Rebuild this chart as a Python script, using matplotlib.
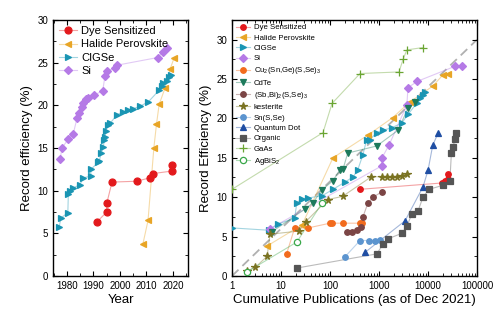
import numpy as np
import matplotlib
matplotlib.use("Agg")
import matplotlib.pyplot as plt
from matplotlib.lines import Line2D
from matplotlib.ticker import MultipleLocator, LogLocator, NullFormatter, FixedLocator

plt.rcParams['font.family'] = ['Liberation Sans', 'DejaVu Sans']
plt.rcParams['mathtext.fontset'] = 'custom'
plt.rcParams['mathtext.rm'] = 'Liberation Sans'
plt.rcParams['axes.linewidth'] = 1.0

# ---- record efficiency vs year ----
dye_year = [1991.2, 1995.0, 1995.0, 1997.0, 2006.3, 2011.3, 2012.5, 2019.8, 2019.8]
dye_eff = [6.3, 7.5, 8.5, 11.0, 11.1, 11.5, 12.0, 12.3, 13.0]

pero_year = [2008.7, 2010.6, 2012.8, 2013.8, 2014.8, 2017.0, 2018.9, 2020.5]
pero_eff = [3.8, 6.5, 15.0, 17.8, 20.1, 22.0, 24.2, 25.6]

cigs_year = [1977.0, 1977.7, 1980.3, 1980.5, 1981.1, 1982.2, 1984.9, 1986.1, 1989.0, 1989.0,
             1991.8, 1992.2, 1992.9, 1993.7, 1994.1, 1994.3, 1994.7, 1995.4, 1996.3, 1998.9,
             2001.0, 2003.0, 2005.0, 2007.6, 2010.7, 2014.9, 2015.8, 2016.3, 2017.6, 2018.6, 2019.3]
cigs_eff = [5.7, 6.8, 7.4, 9.6, 9.9, 10.3, 10.7, 11.5, 11.7, 12.5,
            13.3, 13.5, 14.4, 15.1, 15.9, 16.3, 17.0, 17.7, 17.9, 18.9,
            19.2, 19.5, 19.6, 19.9, 20.4, 21.8, 22.3, 22.6, 22.9, 23.3, 23.5]

si_year = [1977.4, 1978.1, 1980.4, 1982.3, 1983.8, 1984.5, 1985.6, 1986.1, 1987.2, 1987.9,
           1990.3, 1993.5, 1994.3, 1995.1, 1998.0, 1998.9, 2014.3, 2016.3, 2017.6]
si_eff = [13.7, 15.0, 16.0, 16.6, 18.5, 19.1, 19.8, 20.3, 20.7, 20.9,
          21.2, 21.7, 23.4, 24.0, 24.4, 24.7, 25.6, 26.3, 26.7]

# ---- record efficiency vs cumulative publications ----
dye_pub = [410, 19000, 22000, 26000, 26000]
dye_pub_eff = [11.0, 11.8, 12.1, 12.3, 13.0]

pero_pub = [5.2, 27, 115, 600, 1900, 4300, 12500, 20000, 26000]
pero_pub_eff = [3.8, 6.5, 15.0, 17.9, 20.1, 22.1, 24.1, 25.5, 25.7]

cigs_pub = [1, 5.7, 8.5, 19, 21, 27, 36, 70, 115, 200, 300, 370, 470, 560, 650, 900,
            1200, 1800, 2900, 3900, 6000, 6900, 7900, 8600]
cigs_pub_eff = [6.1, 5.8, 6.6, 7.3, 9.3, 9.8, 9.9, 10.2, 11.0, 11.9, 12.6, 13.5, 15.4, 17.3,
                17.3, 18.2, 18.5, 18.8, 19.4, 20.5, 22.0, 22.6, 23.0, 23.4]

si_pub = [6, 1150, 1150, 1600, 3700, 3900, 6000, 35000, 49000]
si_pub_eff = [6.0, 14.0, 15.0, 16.6, 21.7, 23.9, 24.7, 26.6, 26.6]

czts_ge_pub = [13, 19, 36, 100, 110, 185, 400, 440]
czts_ge_eff = [2.8, 6.1, 6.1, 6.7, 6.7, 6.7, 6.7, 6.7]

cdte_pub = [6.5, 31, 45, 68, 115, 160, 185, 230, 900, 2450, 3900, 5500]
cdte_eff = [5.6, 8.5, 9.3, 10.9, 12.1, 13.5, 13.6, 15.6, 16.5, 18.5, 21.3, 22.1]

sbbi_pub = [220, 280, 350, 420, 470, 590, 760, 1150]
sbbi_eff = [5.6, 5.6, 5.8, 6.2, 7.5, 9.2, 10.0, 10.7]

kest_pub = [2, 3, 5.2, 6, 23, 32, 90, 180, 700, 1150, 1450, 1850, 2300, 2900, 3700]
kest_eff = [0.6, 1.1, 2.5, 5.3, 5.7, 6.9, 9.7, 10.1, 12.6, 12.6, 12.6, 12.6, 12.6, 12.7, 13.0]

sns_pub = [200, 410, 620, 820, 1050]
sns_eff = [2.4, 4.5, 4.5, 4.5, 4.6]

qd_pub = [520, 3400, 7900, 10000, 12500, 16000]
qd_eff = [3.0, 7.0, 11.3, 13.4, 16.6, 18.1]

opv_pub = [21, 900, 1200, 1500, 2900, 3700, 4700, 6300, 7900, 10500, 20000, 28000,
           30000, 33000, 35000, 38000]
opv_eff = [1.0, 2.8, 4.0, 4.7, 5.4, 6.3, 7.9, 8.3, 10.0, 11.0, 11.5, 12.1,
           15.6, 16.4, 17.4, 18.2]

gaas_pub = [1, 72, 110, 410, 2560, 3100, 3700, 7900]
gaas_eff = [11.0, 18.2, 21.9, 25.7, 25.9, 27.5, 28.7, 29.0]

agbis_pub = [2, 21, 68]
agbis_eff = [0.5, 4.3, 9.2]

trend_pub = [1, 1e5]
trend_eff = [0, 30]

C_DYE = '#e3191c'
C_PERO = '#e8a526'
C_CIGS = '#1a95b3'
C_SI = '#b57ae6'


def draw(ax, x, y, color, marker, label, ms=5, mfc=None, handles=None):
    fc = mfc if mfc else color
    ax.plot(x, y, '-', color=color, lw=0.8, alpha=0.4, zorder=2)
    ax.plot(x, y, linestyle='none', marker=marker, ms=ms, color=color,
            mfc=fc, mec=color, mew=0.9, zorder=3)
    # legend handle: pale line with a solid marker on top
    pale = Line2D([], [], color=color, lw=0.8, alpha=0.4)
    mark = Line2D([], [], linestyle='none', marker=marker, ms=ms,
                  mfc=fc, mec=color, mew=0.9)
    handles.append(((pale, mark), label))


fig = plt.figure(figsize=(5, 3.22), dpi=100)

# left panel
ax1 = fig.add_axes([0.106, 0.143, 0.27, 0.795])
h1 = []
draw(ax1, dye_year, dye_eff, C_DYE, 'o', 'Dye Sensitized', handles=h1)
draw(ax1, pero_year, pero_eff, C_PERO, '<', 'Halide Perovskite', handles=h1)
draw(ax1, cigs_year, cigs_eff, C_CIGS, '>', 'CIGSe', handles=h1)
draw(ax1, si_year, si_eff, C_SI, 'D', 'Si', ms=4.3, handles=h1)
ax1.set_xlim(1974.7, 2025.7)
ax1.set_ylim(0, 30)
ax1.xaxis.set_major_locator(FixedLocator([1980, 1990, 2000, 2010, 2020]))
ax1.xaxis.set_minor_locator(MultipleLocator(5))
ax1.yaxis.set_major_locator(MultipleLocator(5))
ax1.yaxis.set_minor_locator(MultipleLocator(2.5))
ax1.tick_params(which='both', direction='in', top=True, right=True, labelsize=7)
ax1.tick_params(which='major', length=3.5)
ax1.tick_params(which='minor', length=2)
ax1.set_xlabel('Year', fontsize=9.5, labelpad=2)
ax1.set_ylabel('Record efficiency (%)', fontsize=9.5, labelpad=3)
ax1.legend([h for h, _ in h1], [l for _, l in h1], loc='upper left', frameon=False,
           fontsize=8, handlelength=1.6, handletextpad=0.4, borderaxespad=0.15,
           labelspacing=0.3)

# right panel
ax2 = fig.add_axes([0.464, 0.143, 0.49, 0.795])
ax2.plot(trend_pub, trend_eff, '--', color='#b0b0b0', lw=1.3, dashes=(5, 3), zorder=1)
h2 = []
draw(ax2, dye_pub, dye_pub_eff, C_DYE, 'o', 'Dye Sensitized', ms=4, handles=h2)
draw(ax2, pero_pub, pero_pub_eff, C_PERO, '<', 'Halide Perovskite', ms=4.5, handles=h2)
draw(ax2, cigs_pub, cigs_pub_eff, C_CIGS, '>', 'CIGSe', ms=4.5, handles=h2)
draw(ax2, si_pub, si_pub_eff, C_SI, 'D', 'Si', ms=4, handles=h2)
draw(ax2, czts_ge_pub, czts_ge_eff, '#f26b1d', 'o', r'Cu$_2$(Sn,Ge)(S,Se)$_3$', ms=4, handles=h2)
draw(ax2, cdte_pub, cdte_eff, '#1d7a5c', 'v', 'CdTe', ms=4.5, handles=h2)
draw(ax2, sbbi_pub, sbbi_eff, '#7b4545', 'o', r'(Sb,Bi)$_2$(S,Se)$_3$', ms=4, handles=h2)
draw(ax2, kest_pub, kest_eff, '#7a7322', '*', 'kesterite', ms=5.5, handles=h2)
draw(ax2, sns_pub, sns_eff, '#5b94cf', 'o', 'Sn(S,Se)', ms=4, handles=h2)
draw(ax2, qd_pub, qd_eff, '#1f4ea3', '^', 'Quantum Dot', ms=4.5, handles=h2)
draw(ax2, opv_pub, opv_eff, '#555555', 's', 'Organic', ms=3.8, handles=h2)
draw(ax2, gaas_pub, gaas_eff, '#6aa532', '+', 'GaAs', ms=6, handles=h2)
draw(ax2, agbis_pub, agbis_eff, '#3aa84a', 'o', r'AgBiS$_2$', ms=4.5, mfc='white', handles=h2)
ax2.set_xscale('log')
ax2.set_xlim(1, 1e5)
ax2.set_ylim(0, 32.5)
ax2.set_xticks([1, 10, 100, 1000, 10000, 100000])
ax2.set_xticklabels(['1', '10', '100', '1000', '10000', '100000'])
ax2.xaxis.set_minor_locator(LogLocator(base=10, subs=np.arange(2, 10), numticks=20))
ax2.xaxis.set_minor_formatter(NullFormatter())
ax2.yaxis.set_major_locator(MultipleLocator(5))
ax2.yaxis.set_minor_locator(MultipleLocator(2.5))
ax2.tick_params(which='both', direction='in', top=True, right=True, labelsize=7)
ax2.tick_params(which='major', length=3.5)
ax2.tick_params(which='minor', length=2)
ax2.set_xlabel('Cumulative Publications (as of Dec 2021)', fontsize=9.5, labelpad=2)
ax2.set_ylabel('Record Efficiency (%)', fontsize=9.5, labelpad=3)
ax2.legend([h for h, _ in h2], [l for _, l in h2], loc='upper left', frameon=False,
           fontsize=5.6, handlelength=1.8, handletextpad=0.5, borderaxespad=0.1,
           labelspacing=0.38)

fig.savefig('out.png', dpi=100)
